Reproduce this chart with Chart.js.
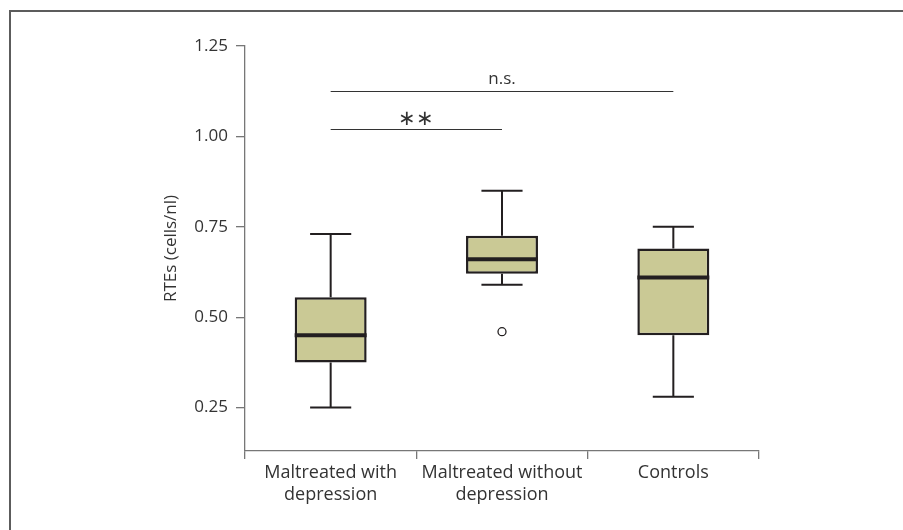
<!DOCTYPE html>
<html>
<head>
<meta charset="utf-8">
<script src="https://cdn.jsdelivr.net/npm/chart.js@4.4.0/dist/chart.umd.min.js"></script>
<style>
    html, body { margin: 0; padding: 0; background: #fff; overflow: hidden; }
    #wrap { position: relative; width: 903px; height: 530px; }
    #frame { position: absolute; left: 9px; top: 10px; width: 910px; height: 540px;
             border-top: 2px solid #5c5c5c; border-left: 2px solid #5c5c5c; }
    canvas { position: absolute; left: 0; top: 0; }
</style>
</head>
<body>
<div id="wrap">
    <div id="frame"></div>
    <canvas id="boxChart" width="903" height="530"></canvas>
</div>
<script>
// Groups and box statistics
const groups = [['Maltreated with', 'depression'], ['Maltreated without', 'depression'], 'Controls'];
const whiskerLow = [0.25, 0.59, 0.28];
const q1 = [0.375, 0.62, 0.45];
const median = [0.45, 0.66, 0.61];
const q3 = [0.555, 0.725, 0.69];
const whiskerHigh = [0.73, 0.85, 0.75];
const outliers = [null, 0.46, null];

// y axis ticks
const yTicks = [0.25, 0.50, 0.75, 1.00, 1.25];

// significance brackets
const sigFrom = [0, 0];
const sigTo = [2, 1];
const sigLevel = [1.125, 1.02];
const sigLabel = ['n.s.', '**'];

const inkColor = '#231f20';
const axisColor = '#777777';
const textColor = '#333333';
const fontFamily = '"Open Sans", "Noto Sans", sans-serif';
const fontSize = 17;

// Whiskers, caps, medians and the significance lines
const boxExtras = {
    id: 'boxExtras',
    afterDatasetsDraw(chart) {
        const ctx = chart.ctx;
        const x = chart.scales.x;
        const y = chart.scales.y;
        const capHalf = x.width / groups.length * 0.12;
        const boxHalf = x.width / groups.length * 0.21;

        ctx.save();
        ctx.strokeStyle = inkColor;
        ctx.lineCap = 'butt';
        groups.forEach((g, i) => {
            const cx = x.getPixelForValue(i);
            ctx.lineWidth = 2;
            ctx.beginPath();
            ctx.moveTo(cx, y.getPixelForValue(q3[i]));
            ctx.lineTo(cx, y.getPixelForValue(whiskerHigh[i]));
            ctx.moveTo(cx, y.getPixelForValue(q1[i]));
            ctx.lineTo(cx, y.getPixelForValue(whiskerLow[i]));
            ctx.moveTo(cx - capHalf, y.getPixelForValue(whiskerHigh[i]));
            ctx.lineTo(cx + capHalf, y.getPixelForValue(whiskerHigh[i]));
            ctx.moveTo(cx - capHalf, y.getPixelForValue(whiskerLow[i]));
            ctx.lineTo(cx + capHalf, y.getPixelForValue(whiskerLow[i]));
            ctx.stroke();

            ctx.lineWidth = 4;
            ctx.beginPath();
            ctx.moveTo(cx - boxHalf, y.getPixelForValue(median[i]));
            ctx.lineTo(cx + boxHalf, y.getPixelForValue(median[i]));
            ctx.stroke();
        });

        ctx.strokeStyle = textColor;
        ctx.fillStyle = textColor;
        ctx.lineWidth = 1;
        ctx.textAlign = 'center';
        ctx.textBaseline = 'alphabetic';
        sigLevel.forEach((lvl, k) => {
            const x0 = x.getPixelForValue(sigFrom[k]);
            const x1 = x.getPixelForValue(sigTo[k]);
            const py = Math.round(y.getPixelForValue(lvl)) + 0.5;
            ctx.beginPath();
            ctx.moveTo(x0, py);
            ctx.lineTo(x1, py);
            ctx.stroke();
            if (sigLabel[k] === '**') {
                ctx.font = '21px ' + fontFamily;
                ctx.fillText('∗∗', (x0 + x1) / 2, py - 5);
            } else {
                ctx.font = fontSize + 'px ' + fontFamily;
                ctx.fillText(sigLabel[k], (x0 + x1) / 2, py - 8);
            }
        });
        ctx.restore();
    }
};

const ctx = document.getElementById('boxChart').getContext('2d');
new Chart(ctx, {
    type: 'bar',
    data: {
        labels: groups,
        datasets: [{
            label: 'IQR',
            data: q1.map((v, i) => [v, q3[i]]),
            backgroundColor: '#cac995',
            borderColor: inkColor,
            borderWidth: 2.5,
            borderSkipped: false,
            categoryPercentage: 1,
            barPercentage: 0.42
        }, {
            type: 'line',
            label: 'Outliers',
            data: outliers,
            showLine: false,
            pointRadius: 4,
            pointBackgroundColor: '#ffffff',
            pointBorderColor: inkColor,
            pointBorderWidth: 1.3
        }]
    },
    options: {
        responsive: false,
        animation: false,
        layout: { padding: { left: 150, top: 46, right: 144, bottom: 0 } },
        plugins: {
            legend: { display: false },
            tooltip: { enabled: false }
        },
        scales: {
            x: {
                offset: true,
                grid: { offset: true, drawOnChartArea: false, drawTicks: true, tickLength: 8, color: axisColor, lineWidth: 1.3 },
                border: { color: axisColor, width: 1.3 },
                ticks: { color: textColor, padding: 3, font: { family: fontFamily, size: 18, lineHeight: 1.2 }, maxRotation: 0 },
                afterFit(scale) { scale.height = 79; }
            },
            y: {
                min: 0.13,
                max: 1.25,
                afterBuildTicks(scale) { scale.ticks = yTicks.map(v => ({ value: v })); },
                grid: { drawOnChartArea: false, drawTicks: true, tickLength: 9, color: axisColor, lineWidth: 1.3 },
                border: { color: axisColor, width: 1.3 },
                ticks: {
                    color: textColor, padding: 8, font: { family: fontFamily, size: fontSize },
                    callback: v => v.toFixed(2)
                },
                title: {
                    display: true, text: 'RTEs (cells/nl)', color: textColor,
                    font: { family: fontFamily, size: fontSize }, padding: { top: 11, bottom: 0 }
                },
                afterFit(scale) { scale.width = 95; }
            }
        }
    },
    plugins: [boxExtras]
});
</script>
</body>
</html>
